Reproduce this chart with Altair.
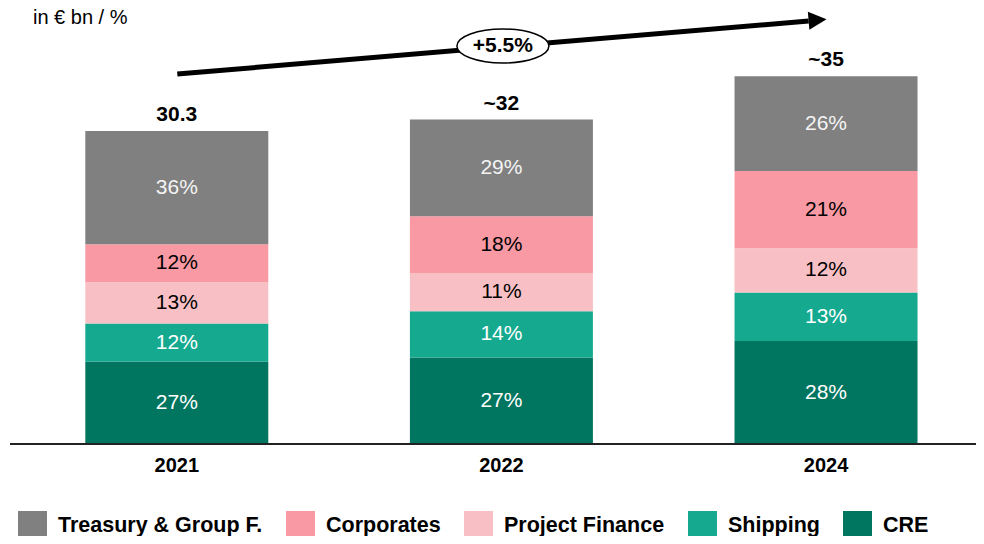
import altair as alt
import pandas as pd

# ---- data -------------------------------------------------------------
years = ["2021", "2022", "2024"]
year_index = [0, 1, 2]
stack_segments = ["CRE", "Shipping", "Project Finance", "Corporates", "Treasury & Group F."]
legend_order = ["Treasury & Group F.", "Corporates", "Project Finance", "Shipping", "CRE"]
legend_colors = ["#808080", "#F899A3", "#F8C0C5", "#15AA8F", "#007560"]

cre_bn = [8.0, 8.4, 10.0]
shipping_bn = [3.7, 4.5, 4.7]
project_finance_bn = [4.0, 3.7, 4.3]
corporates_bn = [3.7, 5.5, 7.5]
treasury_bn = [11.0, 9.4, 9.2]

cre_pct = ["27%", "27%", "28%"]
shipping_pct = ["12%", "14%", "13%"]
project_finance_pct = ["13%", "11%", "12%"]
corporates_pct = ["12%", "18%", "21%"]
treasury_pct = ["36%", "29%", "26%"]

total_labels = ["30.3", "~32", "~35"]
growth_label = "+5.5%"
unit_label = "in € bn / %"

# annotation arrow (data units)
arrow_x = [0.0015, 1.9466]
arrow_y = [35.92, 41.07]
arrow_head = (1.974, 41.17)
ellipse_center = (1.0046, 38.64)

# ---- build tables ------------------------------------------------------
seg_vals = {
    "CRE": (cre_bn, cre_pct, "white"),
    "Shipping": (shipping_bn, shipping_pct, "white"),
    "Project Finance": (project_finance_bn, project_finance_pct, "black"),
    "Corporates": (corporates_bn, corporates_pct, "black"),
    "Treasury & Group F.": (treasury_bn, treasury_pct, "#f4f4f4"),
}
rows = []
tot_rows = []
for i, yr in enumerate(years):
    cum = 0.0
    for seg in stack_segments:
        vals, pcts, tc = seg_vals[seg]
        v = vals[i]
        rows.append(dict(year=yr, idx=year_index[i], segment=seg, y0=cum, y1=cum + v,
                         mid=cum + v / 2, pct=pcts[i], tc=tc))
        cum += v
    tot_rows.append(dict(year=yr, idx=year_index[i], total=cum, label=total_labels[i]))
df = pd.DataFrame(rows)
tot = pd.DataFrame(tot_rows)
arrow_df = pd.DataFrame({"x": arrow_x, "y": arrow_y})
head_df = pd.DataFrame({"x": [arrow_head[0]], "y": [arrow_head[1]]})
ell_df = pd.DataFrame({"x": [ellipse_center[0]], "y": [ellipse_center[1]], "t": [growth_label]})
unit_df = pd.DataFrame({"t": [unit_label]})

FONT = "Liberation Sans"
xs = alt.Scale(domain=[-0.5046, 2.4466], nice=False, zero=False)
ys = alt.Scale(domain=[-8.932, 42.33], nice=False, zero=False)

X = lambda f: alt.X(f, type="quantitative", scale=xs, axis=None)
Y = lambda f: alt.Y(f, type="quantitative", scale=ys, axis=None)

base = alt.Chart(df)

bars = base.mark_bar(size=183).encode(
    x=X("idx"),
    y=Y("y0"),
    y2="y1",
    color=alt.Color(
        "segment:N",
        scale=alt.Scale(domain=legend_order, range=legend_colors),
        legend=alt.Legend(
            orient="none", legendX=10, legendY=503, direction="horizontal", columns=5,
            title=None, symbolType="square", symbolSize=841, symbolStrokeWidth=0,
            symbolOpacity=1, labelFontSize=21.5, labelFontWeight="bold", labelFont=FONT,
            labelColor="black", labelOffset=11, columnPadding=23, labelLimit=400,
        ),
    ),
)

pct_text = base.mark_text(font=FONT, fontSize=21, baseline="middle").encode(
    x=X("idx"), y=Y("mid"), text="pct:N", color=alt.Color("tc:N", scale=None)
)

tot_text = alt.Chart(tot).mark_text(font=FONT, fontSize=21, fontWeight="bold",
                                    baseline="middle", dy=-16, color="black").encode(
    x=X("idx"), y=Y("total"), text="label:N"
)

year_text = alt.Chart(tot).mark_text(font=FONT, fontSize=20, fontWeight="bold",
                                     baseline="middle", color="black").encode(
    x=X("idx"), y=alt.datum(-2.136, type="quantitative", scale=ys, axis=None), text="year:N"
)

axis_rule = alt.Chart(unit_df).mark_rule(color="#222222", strokeWidth=2).encode(
    x=alt.value(2), x2=alt.value(968), y=alt.datum(0, type="quantitative", scale=ys, axis=None)
)

arrow_line = alt.Chart(arrow_df).mark_line(color="black", strokeWidth=5).encode(
    x=X("x"), y=Y("y")
)
arrow_tip = alt.Chart(head_df).mark_point(
    shape="M-1,-1 L1,0 L-1,1 Z", size=324, filled=True, color="black", opacity=1,
    angle=355.2
).encode(x=X("x"), y=Y("y"))

ellipse = alt.Chart(ell_df).mark_point(
    shape="M-1,0 A1,0.37 0 1,1 1,0 A1,0.37 0 1,1 -1,0 Z", size=8464, filled=True,
    fill="white", stroke="black", strokeWidth=1.5, opacity=1
).encode(x=X("x"), y=Y("y"))
ell_text = alt.Chart(ell_df).mark_text(font=FONT, fontSize=21, fontWeight="bold",
                                       baseline="middle", color="black").encode(
    x=X("x"), y=Y("y"), text="t:N"
)

unit_text = alt.Chart(unit_df).mark_text(font=FONT, fontSize=20, align="left",
                                         baseline="top", color="black").encode(
    x=alt.value(25), y=alt.value(0), text="t:N"
)

chart = alt.layer(
    bars, pct_text, tot_text, year_text, axis_rule, arrow_line, arrow_tip,
    ellipse, ell_text, unit_text
).properties(
    width=968, height=528, padding=0,
    autosize=alt.AutoSizeParams(type="none"),
).configure_view(stroke=None)

chart.save("out.html", embed_options={"renderer": "svg", "actions": False})
